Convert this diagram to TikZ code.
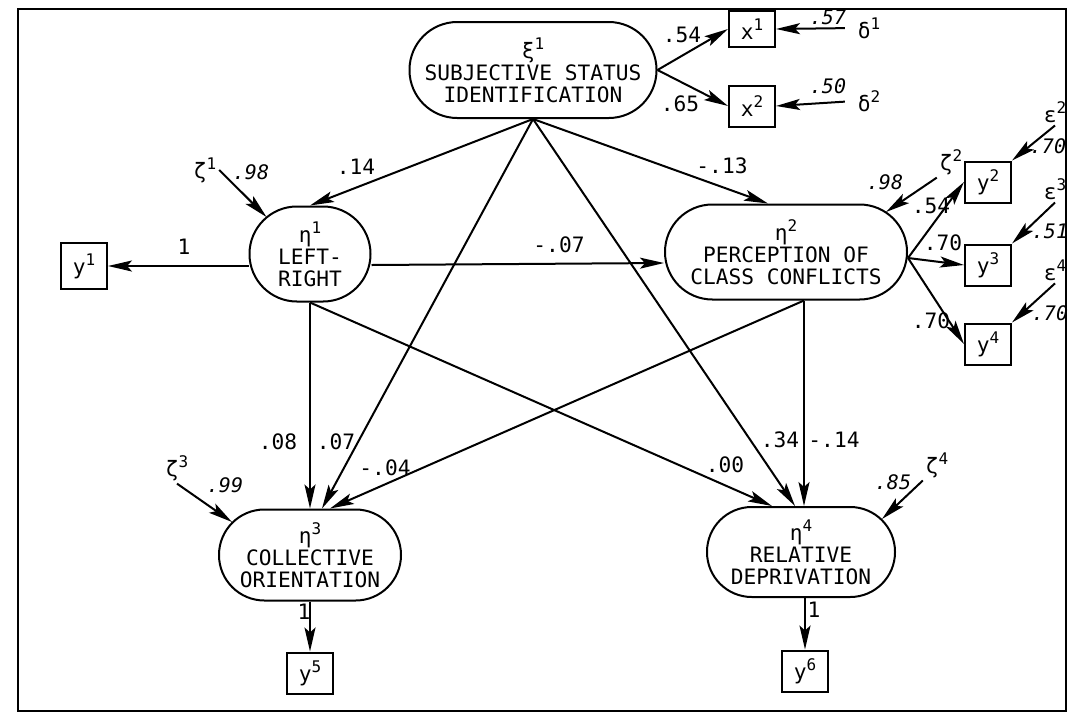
\documentclass[tikz,border=0pt]{standalone}
\usepackage{fontspec}
\setmainfont{DejaVu Sans Mono}
\usetikzlibrary{arrows.meta}

\newcommand\upidx[1]{\raisebox{0.42em}{\fontsize{8}{8}\selectfont #1}}

\tikzset{
  lat/.style={draw, rectangle, inner sep=0pt, align=center, minimum height=47.5pt, rounded corners=23.7pt},
  obs/.style={draw, rectangle, inner sep=0pt, minimum width=23pt, minimum height=20.5pt},
  err/.style={inner sep=1pt},
  coef/.style={inner sep=0pt},
  ecoef/.style={inner sep=0pt, font=\itshape},
}

\begin{document}
\begin{tikzpicture}[x=0.5pt, y=-0.5pt, line width=1pt, font=\fontsize{10.6}{11}\selectfont,
    >={Stealth[length=12pt, width=5.5pt, inset=2.5pt]}]
    \useasboundingbox (0,0) rectangle (1071,713);
    \draw[line width=1.4pt] (18,9) rectangle (1066,711);
    % latent variables
    \node[lat, minimum width=123.5pt, minimum height=48pt, rounded corners=23.9pt] (xi) at (533,70) {ξ\upidx{1}\\SUBJECTIVE STATUS\\IDENTIFICATION};
    \node[lat, minimum width=60.5pt] (eta1) at (310,254) {η\upidx{1}\\LEFT-\\RIGHT};
    \node[lat, minimum width=121pt] (eta2) at (786,252) {η\upidx{2}\\PERCEPTION OF\\CLASS CONFLICTS};
    \node[lat, minimum width=91pt, minimum height=45.5pt, rounded corners=22.7pt] (eta3) at (310,555) {η\upidx{3}\\COLLECTIVE\\ORIENTATION};
    \node[lat, minimum width=94pt, minimum height=45pt, rounded corners=22.4pt] (eta4) at (801,552) {η\upidx{4}\\RELATIVE\\DEPRIVATION};
    % indicators
    \node[obs, minimum height=18pt] (x1) at (752,29) {x\upidx{1}};
    \node[obs] (x2) at (752,106) {x\upidx{2}};
    \node[obs, minimum height=23pt] (y1) at (84,266) {y\upidx{1}};
    \node[obs] (y2) at (988,182) {y\upidx{2}};
    \node[obs] (y3) at (988,265) {y\upidx{3}};
    \node[obs] (y4) at (988,344) {y\upidx{4}};
    \node[obs] (y5) at (310,673) {y\upidx{5}};
    \node[obs] (y6) at (805,671) {y\upidx{6}};
    % error terms
    \node[err] (d1) at (869,28) {δ\upidx{1}};
    \node[err] (d2) at (869,101) {δ\upidx{2}};
    \node[err] (e2) at (1055,112) {ε\upidx{2}};
    \node[err] (e3) at (1055,189) {ε\upidx{3}};
    \node[err] (e4) at (1055,270) {ε\upidx{4}};
    \node[err] (z1) at (205,170) {ζ\upidx{1}};
    \node[err] (z2) at (951,162) {ζ\upidx{2}};
    \node[err] (z3) at (177,468) {ζ\upidx{3}};
    \node[err] (z4) at (937,465) {ζ\upidx{4}};
    \coordinate (p2) at ([xshift=9pt]eta2.south);

    % paths
    \draw[->] (xi.east) -- (x1.west);
    \draw[->] (xi.east) -- (x2.west);
    \draw[->, shorten <=5pt] (d1.west) -- (x1.east);
    \draw[->, shorten <=5pt] (d2.west) -- (x2.east);
    \draw[->] (xi.south) -- (eta1.north);
    \draw[->] (xi.south) -- ([xshift=-9pt]eta2.north);
    \draw[->] (xi.south) -- ([xshift=6pt]eta3.north);
    \draw[->] (xi.south) -- ([xshift=-3pt]eta4.north);
    \draw[->] (eta1.west |- y1) -- (y1.east);
    \draw[->] ([yshift=-5.5pt]eta1.east) -- ([yshift=-5.5pt]eta2.west);
    \draw[->] (eta1.south) -- (eta3.north);
    \draw[->] (eta1.south) -- ([xshift=-14.5pt]eta4.north);
    \draw[->] (p2) -- ([xshift=10pt]eta3.north);
    \draw[->] (p2) -- (p2 |- eta4.north);
    \draw[->] ([yshift=-3pt]eta2.east) -- (y2.west);
    \draw[->] ([yshift=-3pt]eta2.east) -- (y3.west);
    \draw[->] ([yshift=-3pt]eta2.east) -- (y4.west);
    \draw[->] (e2.south) -- (y2.north east);
    \draw[->] (e3.south) -- (y3.north east);
    \draw[->] (e4.south) -- (y4.north east);
    \draw[->] (eta3.south) -- (y5.north);
    \draw[->] (eta4.south -| y6.north) -- (y6.north);
    \draw[->] (z1.east) -- ([xshift=9pt, yshift=18.5pt]eta1.west);
    \draw[->] (z2.south west) -- ([xshift=-11pt, yshift=20pt]eta2.east);
    \draw[->] (z3.south) -- ([xshift=7pt, yshift=16.5pt]eta3.west);
    \draw[->] (z4.south west) -- ([xshift=-7pt, yshift=16.5pt]eta4.east);

    % coefficients
    \node[coef] (c54) at (682,35) {.54};
    \node[coef] (c65) at (680,104) {.65};
    \node[ecoef] (c57) at (828,17) {.57};
    \node[ecoef] (c50) at (828,86) {.50};
    \node[coef] (c14) at (356,167) {.14};
    \node[coef] (c13) at (722,166) {-.13};
    \node[ecoef] (c98a) at (251,172) {.98};
    \node[ecoef] (c98b) at (885,182) {.98};
    \node[coef] (c07a) at (559,245) {-.07};
    \node[coef] (c1a) at (184,247) {1};
    \node[coef] (c54b) at (931,206) {.54};
    \node[coef] (c70a) at (943,243) {.70};
    \node[coef] (c70b) at (931,321) {.70};
    \node[ecoef] (c70c) at (1048,146) {.70};
    \node[ecoef] (c51) at (1050,231) {.51};
    \node[ecoef] (c70d) at (1050,313) {.70};
    \node[coef] (c08) at (278,442) {.08};
    \node[coef] (c07b) at (336,442) {.07};
    \node[coef] (c04) at (385,468) {-.04};
    \node[ecoef] (c99) at (225,485) {.99};
    \node[coef] (c1b) at (304,612) {1};
    \node[coef] (c00) at (725,465) {.00};
    \node[coef] (c34) at (780,440) {.34};
    \node[coef] (c14b) at (834,440) {-.14};
    \node[ecoef] (c85) at (893,482) {.85};
    \node[coef] (c1c) at (814,610) {1};
\end{tikzpicture}
\end{document}
